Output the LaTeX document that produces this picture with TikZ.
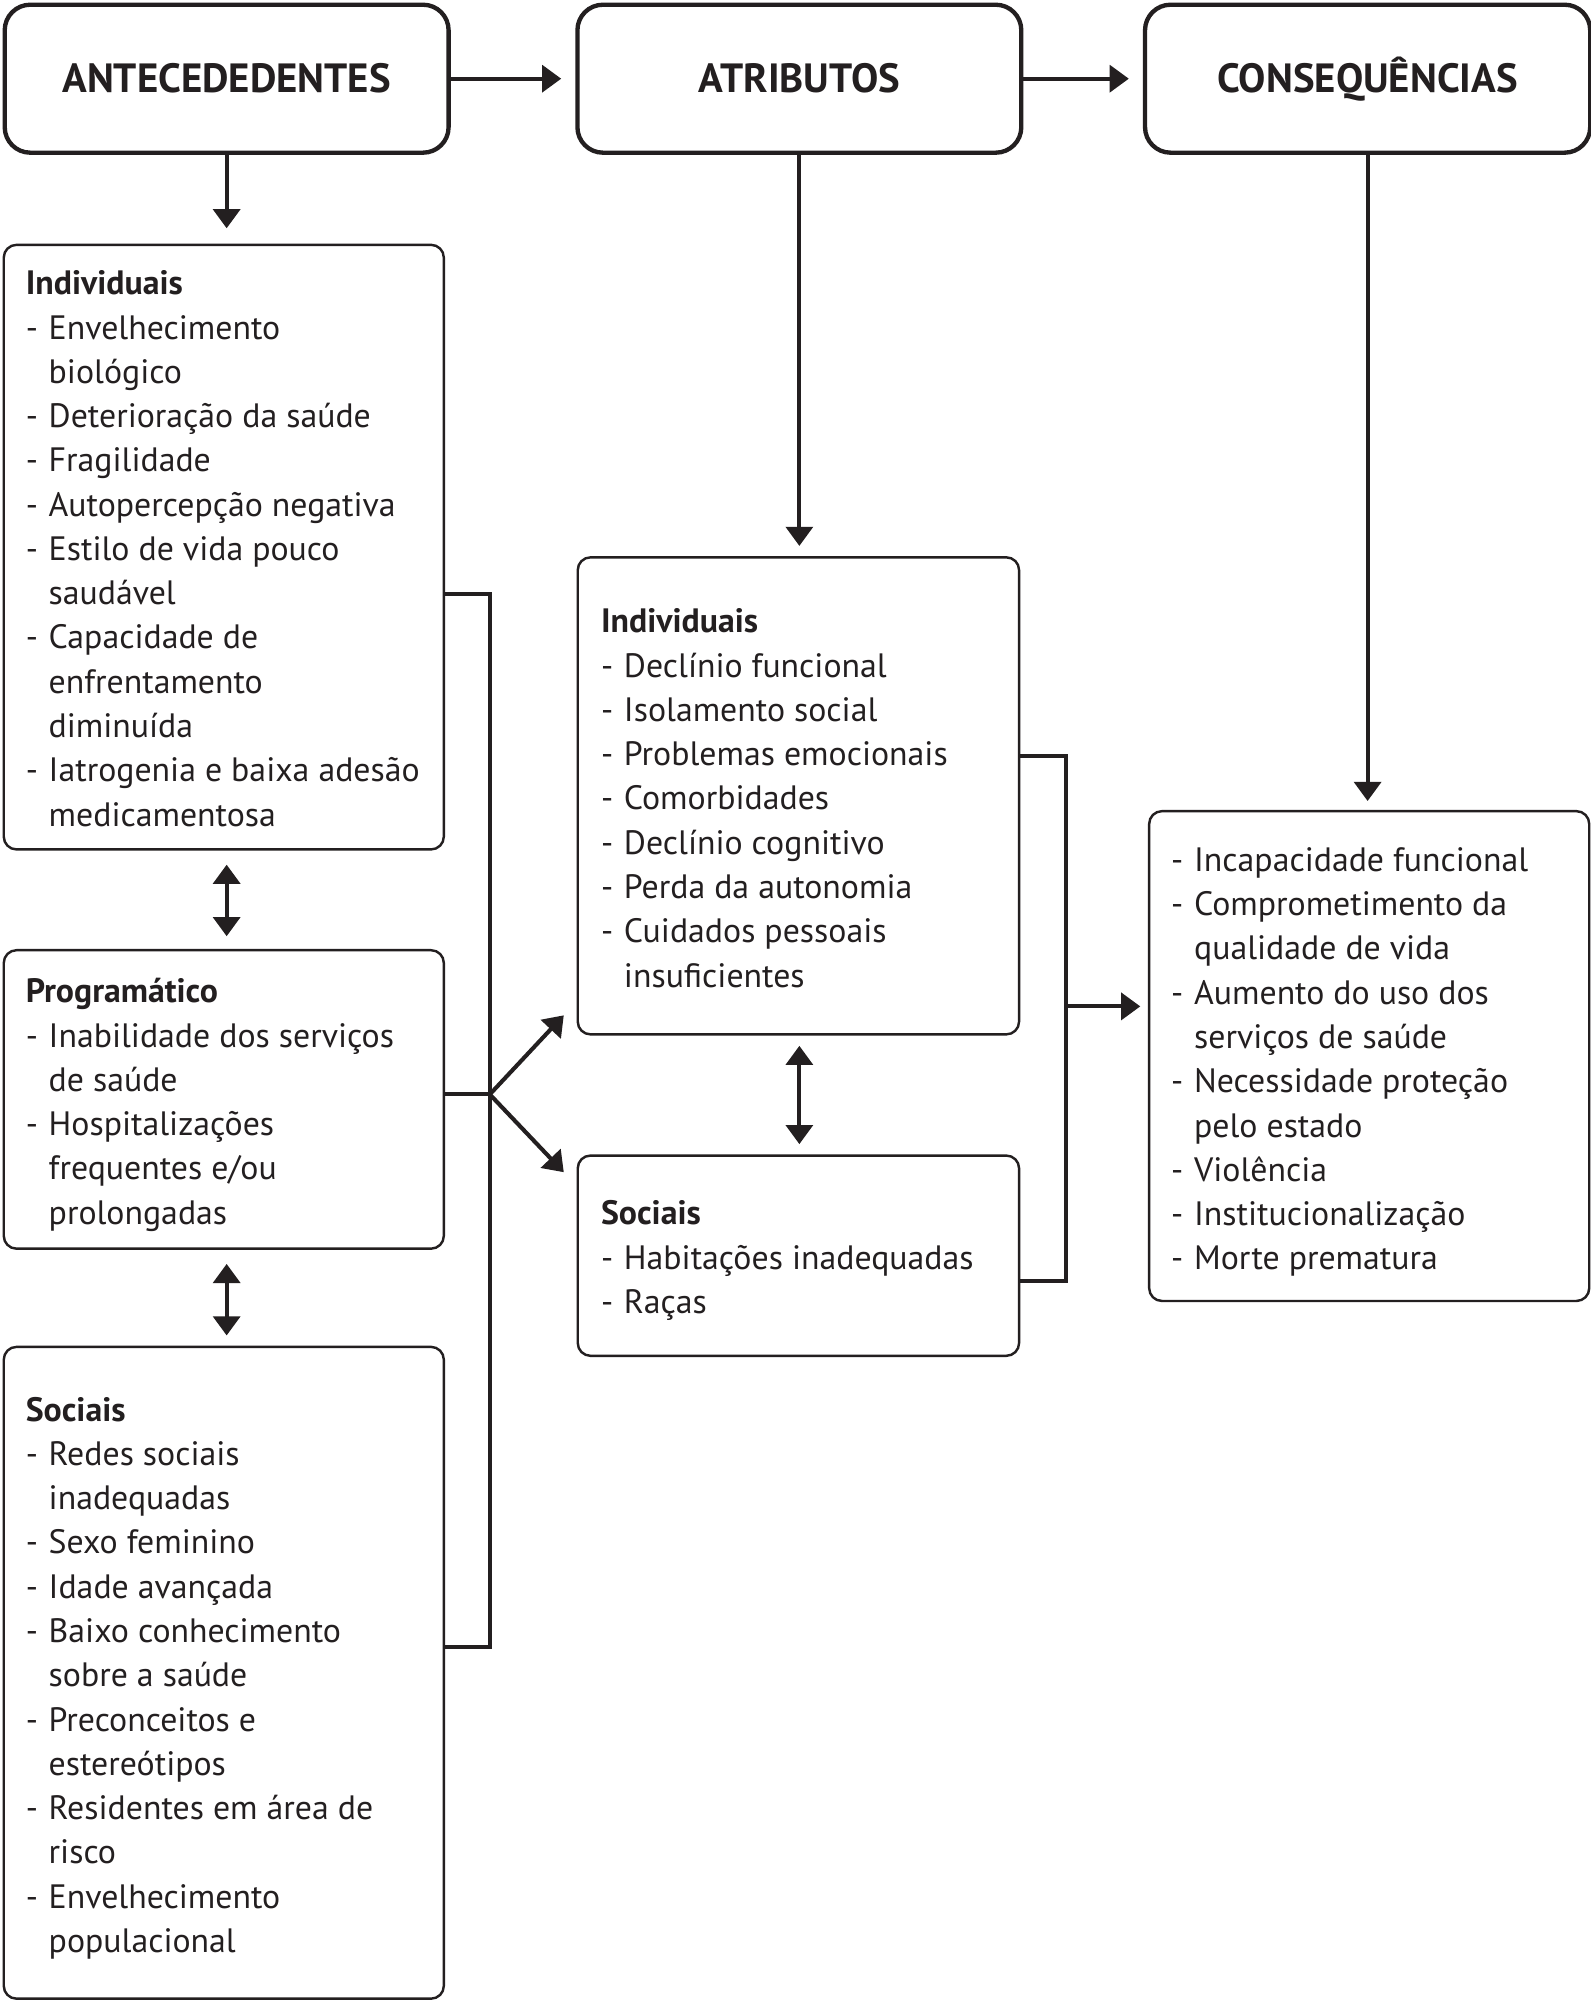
\documentclass[tikz,border=0pt]{standalone}
\usepackage{fontspec}
\setmainfont{PT Sans}
\usetikzlibrary{arrows.meta}
\definecolor{ink}{HTML}{231F20}
\newcommand{\Ditem}[1]{\makebox[18pt][l]{-}#1}
\newcommand{\Dcont}[1]{\hspace*{18pt}#1}
\newcommand{\Dfirst}{\rule{0pt}{24pt}}
\begin{document}
\begin{tikzpicture}[x=1pt,y=-1pt,
  hdr/.style={draw=ink, text=ink, line width=3.4pt, rounded corners=20pt, minimum width=348pt, minimum height=116pt, anchor=north west, inner sep=0pt, font=\bfseries\fontsize{32}{36}\selectfont},
  sub/.style={draw=ink, line width=1.9pt, rounded corners=10pt, anchor=north west, inner sep=0pt},
  txt/.style={anchor=north west, inner sep=0pt, align=left, text=ink, font=\fontsize{26.5}{34.7}\selectfont},
  conn/.style={draw=ink, line width=3.2pt},
  arr/.style={conn, -{Triangle[length=15pt,width=21pt]}},
  darr/.style={conn, {Triangle[length=15pt,width=21pt]}-{Triangle[length=15pt,width=21pt]}},
]
\useasboundingbox (0,0) rectangle (1247,1568);
\fill[white] (0,0) rectangle (1247,1568);

% header boxes
\node[hdr] (ant) at (2,2) {ANTECEDEDENTES};
\node[hdr] (atr) at (451,2) {ATRIBUTOS};
\node[hdr, minimum width=349pt] (con) at (896,2) {CONSEQUÊNCIAS};

% antecedent boxes
\node[sub, minimum width=345pt, minimum height=474pt] (aind) at (2,191) {};
\node[sub, minimum width=345pt, minimum height=234pt] (aprog) at (2,744) {};
\node[sub, minimum width=345pt, minimum height=511pt] (asoc) at (2,1055) {};

% attribute boxes
\node[sub, minimum width=346pt, minimum height=374pt] (bind) at (452,436) {};
\node[sub, minimum width=346pt, minimum height=157pt] (bsoc) at (452,905) {};

% consequence box
\node[sub, minimum width=345pt, minimum height=384pt] (cres) at (900,635) {};

% texts
\node[txt] (aindt) at (20,207) {\Dfirst\textbf{Individuais}\\
\Ditem{Envelhecimento}\\
\Dcont{biológico}\\
\Ditem{Deterioração da saúde}\\
\Ditem{Fragilidade}\\
\Ditem{Autopercepção negativa}\\
\Ditem{Estilo de vida pouco}\\
\Dcont{saudável}\\
\Ditem{Capacidade de}\\
\Dcont{enfrentamento}\\
\Dcont{diminuída}\\
\Ditem{Iatrogenia e baixa adesão}\\
\Dcont{medicamentosa}};

\node[txt] (aprogt) at (20,762) {\Dfirst\textbf{Programático}\\
\Ditem{Inabilidade dos serviços}\\
\Dcont{de saúde}\\
\Ditem{Hospitalizações}\\
\Dcont{frequentes e/ou}\\
\Dcont{prolongadas}};

\node[txt] (asoct) at (20,1090) {\Dfirst\textbf{Sociais}\\
\Ditem{Redes sociais}\\
\Dcont{inadequadas}\\
\Ditem{Sexo feminino}\\
\Ditem{Idade avançada}\\
\Ditem{Baixo conhecimento}\\
\Dcont{sobre a saúde}\\
\Ditem{Preconceitos e}\\
\Dcont{estereótipos}\\
\Ditem{Residentes em área de}\\
\Dcont{risco}\\
\Ditem{Envelhecimento}\\
\Dcont{populacional}};

\node[txt] (bindt) at (471,472) {\Dfirst\textbf{Individuais}\\
\Ditem{Declínio funcional}\\
\Ditem{Isolamento social}\\
\Ditem{Problemas emocionais}\\
\Ditem{Comorbidades}\\
\Ditem{Declínio cognitivo}\\
\Ditem{Perda da autonomia}\\
\Ditem{Cuidados pessoais}\\
\Dcont{insuficientes}};

\node[txt] (bsoct) at (471,936) {\Dfirst\textbf{Sociais}\\
\Ditem{Habitações inadequadas}\\
\Ditem{Raças}};

\node[txt] (crest) at (918,659) {\Dfirst\Ditem{Incapacidade funcional}\\
\Ditem{Comprometimento da}\\
\Dcont{qualidade de vida}\\
\Ditem{Aumento do uso dos}\\
\Dcont{serviços de saúde}\\
\Ditem{Necessidade proteção}\\
\Dcont{pelo estado}\\
\Ditem{Violência}\\
\Ditem{Institucionalização}\\
\Ditem{Morte prematura}};

% header arrows
\draw[arr, shorten >=11pt] (ant.east) -- (atr.west);
\draw[arr, shorten >=11pt] (atr.east) -- (con.west);
\draw[arr, shorten >=12pt] (ant.south) -- (ant.south |- aind.north);
\draw[arr, shorten >=8pt] (atr.south) -- (atr.south |- bind.north);
\draw[arr, shorten >=7pt] (con.south) -- (con.south |- cres.north);

% double arrows
\draw[darr, shorten <=11pt, shorten >=10pt] (ant.south |- aind.south) -- (ant.south |- aprog.north);
\draw[darr, shorten <=11pt, shorten >=8pt] (ant.south |- aprog.south) -- (ant.south |- asoc.north);
\draw[darr, shorten <=8pt, shorten >=8pt] (atr.south |- bind.south) -- (atr.south |- bsoc.north);

% left bracket
\coordinate (bt) at (384,466);
\coordinate (bb) at (384,1291);
\coordinate (bj) at (384,858);
\coordinate (ut) at (442,796);
\coordinate (dt) at (442,919);
\draw[conn, line join=miter] (aind.east |- bt) -- (bt) -- (bb) -- (asoc.east |- bb);
\draw[conn] (aprog.east |- bj) -- (bj);
\draw[arr] (bj) -- (ut);
\draw[arr] (bj) -- (dt);

% right bracket
\coordinate (rt) at (836,593);
\coordinate (rb) at (836,1004);
\coordinate (rj) at (836,789);
\draw[conn, line join=miter] (bind.east |- rt) -- (rt) -- (rb) -- (bsoc.east |- rb);
\draw[arr, shorten >=6pt] (rj) -- (cres.west |- rj);
\end{tikzpicture}
\end{document}
